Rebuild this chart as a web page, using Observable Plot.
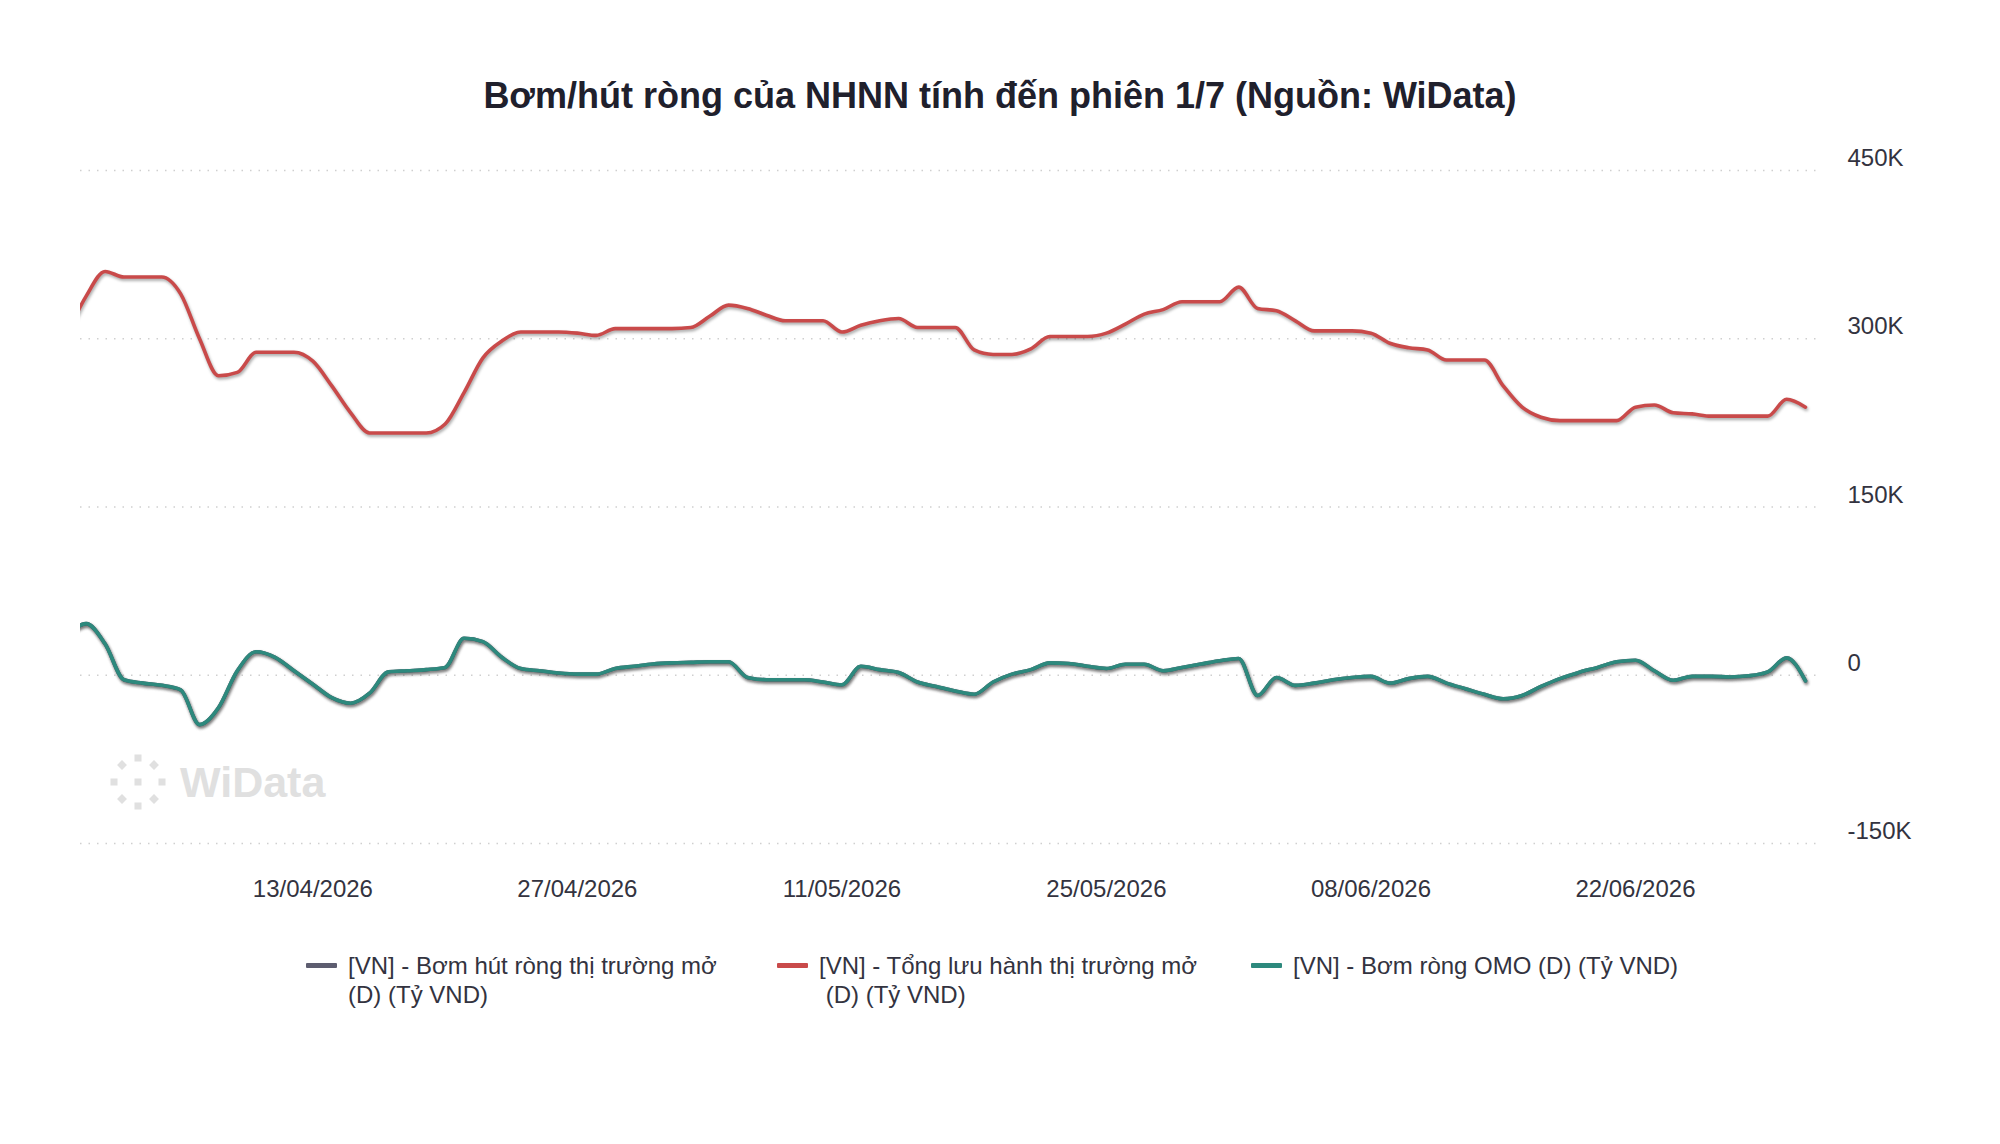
<!DOCTYPE html>
<html>
<head>
<meta charset="utf-8">
<script src="https://cdn.jsdelivr.net/npm/d3@7"></script>
<script src="https://cdn.jsdelivr.net/npm/@observablehq/plot@0.6"></script>
<style>
  html, body { margin: 0; padding: 0; background: #fff; }
  body { width: 2000px; height: 1144px; position: relative; overflow: hidden;
         font-family: "Liberation Sans", Arial, Helvetica, sans-serif; }
  #title { position: absolute; left: 0; top: 72px; width: 2000px; text-align: center;
           font-weight: bold; font-size: 36px; line-height: 48px; color: #20202c; }
  #chart { position: absolute; left: 0; top: 130px; }
  #watermark { position: absolute; left: 100px; top: 748px; }
  .leg { position: absolute; font-size: 24px; line-height: 29px; color: #333340; white-space: pre; }
  .sw { position: absolute; width: 31px; height: 5px; border-radius: 1px; }
</style>
</head>
<body>
<div id="title"></div>
<div id="watermark"></div>
<div id="chart"></div>
<div id="legend"></div>
<script>
// ---- Data (values in thousand tỷ VND, one per calendar day from 31/03/2026 to 01/07/2026) ----
const titleText = "Bơm/hút ròng của NHNN tính đến phiên 1/7 (Nguồn: WiData)";
const startDate = "2026-03-31";

// [VN] - Tổng lưu hành thị trường mở (D) (Tỷ VND)
const tongLuuHanh = [
  305,
  338, 360, 355, 355, 355, 340, 300, 267, 270, 288,
  288, 288, 280, 258, 234, 216, 216, 216, 216, 224,
  252, 283, 298, 306, 306, 306, 305, 303, 309, 309,
  309, 309, 310, 320, 330, 327, 321, 316, 316, 316,
  306, 312, 316, 318, 310, 310, 310, 290, 286, 286,
  291, 302, 302, 302, 305, 313, 322, 326, 333, 333,
  333, 346, 327, 325, 316, 307, 307, 307, 305, 296,
  292, 290, 281, 281, 281, 258, 239, 230, 227, 227,
  227, 227, 239, 241, 234, 233, 231, 231, 231, 231,
  246, 239
];

// [VN] - Bơm ròng OMO (D) (Tỷ VND)
const bomRongOMO = [
  36,
  46, 28, -4, -7, -9, -13, -44, -29, 4, 21,
  16, 4, -8, -20, -25, -16, 3, 4, 5, 7,
  33, 30, 16, 6, 4, 2, 1, 1, 6, 8,
  10, 11, 11.5, 12, 12, -2, -4, -4, -4, -6,
  -8.5, 8, 5, 2.5, -6, -10, -14, -17, -6, 1,
  5, 11, 10.5, 8, 6, 9.8, 9.8, 4, 7, 10,
  13, 15, -18, -2, -9, -7, -4, -2, -1, -7,
  -3, -1, -7, -12, -17, -21, -18, -10, -3, 2.5,
  7, 12, 13.4, 4, -4.5, -1, -1, -1.5, -0.5, 3,
  15.5, -5
];

// [VN] - Bơm hút ròng thị trường mở (D) (Tỷ VND) — same values, hidden under the OMO line
const bomHutRong = [
  36,
  46, 28, -4, -7, -9, -13, -44, -29, 4, 21,
  16, 4, -8, -20, -25, -16, 3, 4, 5, 7,
  33, 30, 16, 6, 4, 2, 1, 1, 6, 8,
  10, 11, 11.5, 12, 12, -2, -4, -4, -4, -6,
  -8.5, 8, 5, 2.5, -6, -10, -14, -17, -6, 1,
  5, 11, 10.5, 8, 6, 9.8, 9.8, 4, 7, 10,
  13, 15, -18, -2, -9, -7, -4, -2, -1, -7,
  -3, -1, -7, -12, -17, -21, -18, -10, -3, 2.5,
  7, 12, 13.4, 4, -4.5, -1, -1, -1.5, -0.5, 3,
  15.5, -5
];

const seriesNames = [
  ["[VN] - Bơm hút ròng thị trường mở", "(D) (Tỷ VND)"],
  ["[VN] - Tổng lưu hành thị trường mở", " (D) (Tỷ VND)"],
  ["[VN] - Bơm ròng OMO (D) (Tỷ VND)"]
];
const seriesColors = ["#5d5d70", "#c94a4a", "#2d897d"];

const xTickLabels = ["13/04/2026", "27/04/2026", "11/05/2026", "25/05/2026", "08/06/2026", "22/06/2026"];
const yTicks = [-150, 0, 150, 300, 450];

// ---- Build table ----
const parseDMY = d3.utcParse("%d/%m/%Y");
const start = d3.utcParse("%Y-%m-%d")(startDate);
const rows = tongLuuHanh.map((v, i) => ({
  date: d3.utcDay.offset(start, i),
  red: v,
  teal: bomRongOMO[i],
  grey: bomHutRong[i]
}));
const xTicks = xTickLabels.map(parseDMY);
const lastDate = rows[rows.length - 1].date;
const firstVisible = new Date(+d3.utcDay.offset(start, 1) - 0.3 * 864e5);

document.getElementById("title").textContent = titleText;

const shadow = "drop-shadow(1px 2px 1.5px rgba(0,0,0,0.35))";
const font = '"Liberation Sans", Arial, Helvetica, sans-serif';

const chart = Plot.plot({
  width: 2000,
  height: 800,
  marginTop: 40,
  marginBottom: 87,
  marginLeft: 80,
  marginRight: 179,
  insetRight: 16,
  style: { fontFamily: font, fontSize: "24px", color: "#333340", background: "transparent" },
  x: { type: "utc", domain: [firstVisible, lastDate] },
  y: { domain: [-150, 450] },
  marks: [
    Plot.gridY(yTicks, { stroke: "#cfcfcf", strokeOpacity: 1, strokeWidth: 1.5, strokeDasharray: "1.5,7" }),
    Plot.axisY(yTicks, {
      anchor: "right", tickSize: 0, tickPadding: 26, dy: -12, textAnchor: "start", label: null,
      tickFormat: d => d === 0 ? "0" : d + "K"
    }),
    Plot.axisX(xTicks, {
      tickSize: 0, tickPadding: 36, label: null,
      tickFormat: d3.utcFormat("%d/%m/%Y")
    }),
    Plot.lineY(rows, { x: "date", y: "grey", stroke: seriesColors[0], strokeWidth: 3.6, curve: "monotone-x", clip: true, imageFilter: shadow }),
    Plot.lineY(rows, { x: "date", y: "red", stroke: seriesColors[1], strokeWidth: 3.6, curve: "monotone-x", clip: true, imageFilter: shadow }),
    Plot.lineY(rows, { x: "date", y: "teal", stroke: seriesColors[2], strokeWidth: 3.6, curve: "monotone-x", clip: true, imageFilter: shadow })
  ]
});
document.getElementById("chart").appendChild(chart);

// ---- Legend ----
const legendPos = [[306, 348], [777, 819], [1251, 1293]];
const legend = document.getElementById("legend");
seriesNames.forEach((lines, i) => {
  const sw = document.createElement("div");
  sw.className = "sw";
  sw.style.left = legendPos[i][0] + "px";
  sw.style.top = "963px";
  sw.style.background = seriesColors[i];
  legend.appendChild(sw);
  const t = document.createElement("div");
  t.className = "leg";
  t.style.left = legendPos[i][1] + "px";
  t.style.top = "951px";
  t.textContent = lines.join("\n");
  legend.appendChild(t);
});

// ---- Watermark ----
const wm = d3.select("#watermark").append("svg").attr("width", 240).attr("height", 70);
const g = wm.append("g").attr("fill", "#e0e0e0").attr("transform", "translate(38,34)");
const sq = 7;
[[0, 0], [0, -24], [0, 24], [-24, 0], [24, 0]].forEach(([cx, cy]) =>
  g.append("rect").attr("x", cx - sq / 2).attr("y", cy - sq / 2).attr("width", sq).attr("height", sq));
[[-16, -17], [16, -17], [-16, 17], [16, 17]].forEach(([cx, cy]) =>
  g.append("rect").attr("x", -sq / 2).attr("y", -sq / 2).attr("width", sq).attr("height", sq)
    .attr("transform", `translate(${cx},${cy}) rotate(45)`));
wm.append("text").attr("x", 80).attr("y", 49).attr("fill", "#e0e0e0")
  .attr("font-family", font).attr("font-weight", "bold").attr("font-size", 43).text("WiData");
</script>
</body>
</html>
